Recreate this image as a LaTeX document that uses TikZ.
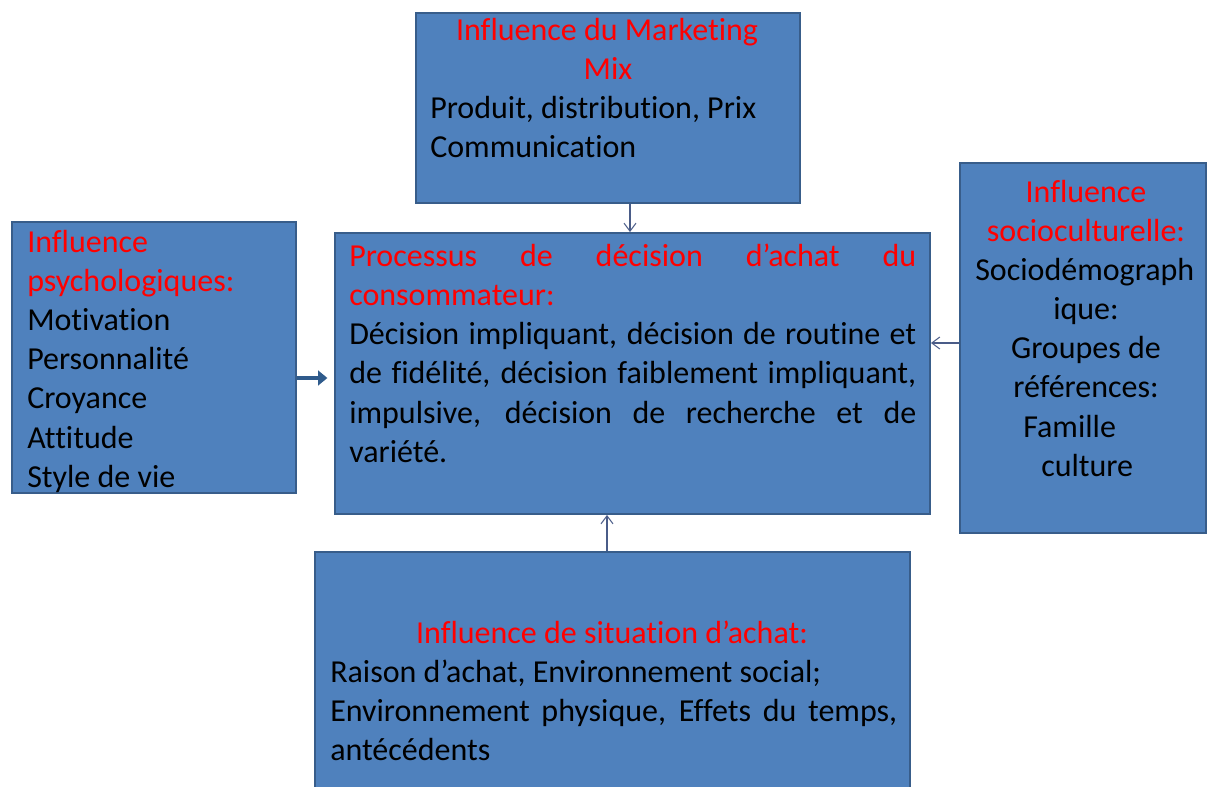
\documentclass[tikz,border=0pt]{standalone}
\usepackage{fontspec}
\setmainfont{Carlito}[Ligatures=CommonOff]
\usetikzlibrary{fit,arrows.meta}
\definecolor{boxfill}{HTML}{4F81BD}
\definecolor{boxline}{HTML}{385D8A}
\definecolor{arrowblue}{HTML}{2F5B8C}
\definecolor{thinarrow}{HTML}{4A5C88}
\definecolor{titlered}{HTML}{FF0000}
\tikzset{
  box/.style={draw=boxline, line width=1.4pt, fill=boxfill, inner sep=0pt},
  txt/.style={anchor=base west, inner sep=0pt, font=\fontsize{24}{29}\selectfont, text=black},
  ctxt/.style={txt, anchor=base},
  red/.style={text=titlered},
  thinarr/.style={draw=thinarrow, line width=0.8pt, -{Straight Barb[length=6pt,width=9pt]}},
  thickarr/.style={draw=arrowblue, line width=3.2pt, -{Triangle[length=7pt,width=11pt]}}
}
\begin{document}
\begin{tikzpicture}[x=0.75pt,y=-0.75pt]
\useasboundingbox (0,0) rectangle (1209,787);
% boxes
\node[box, fit={(416,13)(800,203)}] (mkt) {};
\node[box, fit={(12,222)(296,493)}] (psy) {};
\node[box, fit={(335,233)(930,514)}] (proc) {};
\node[box, fit={(960,163)(1206,533)}] (soc) {};
\node[box, fit={(315,552)(910,795)}] (sit) {};

% marketing mix
\node[ctxt, red] (m1) at (607,41) {Influence du Marketing};
\node[ctxt, red] (m2) at (608,80) {Mix};
\node[txt] (m3) at (430,119) {Produit, distribution, Prix};
\node[txt] (m4) at (430,158) {Communication};

% psychologiques
\node[txt, red] (p1) at (27,253) {Influence};
\node[txt, red] (p2) at (27,292) {psychologiques:};
\node[txt] (p3) at (27,331) {Motivation};
\node[txt] (p4) at (27,370) {Personnalité};
\node[txt] (p5) at (27,409) {Croyance};
\node[txt] (p6) at (27,448) {Attitude};
\node[txt] (p7) at (27,487) {Style de vie};

% processus
\node[txt, red] (c1) at (349,267) {\makebox[425.25pt][s]{Processus de décision d’achat du}};
\node[txt, red] (c2) at (349,306) {consommateur:};
\node[txt] (c3) at (349,345) {\makebox[425.25pt][s]{Décision impliquant, décision de routine et}};
\node[txt] (c4) at (349,384) {\makebox[425.25pt][s]{de fidélité, décision faiblement impliquant,}};
\node[txt] (c5) at (349,423) {\makebox[425.25pt][s]{impulsive, décision de recherche et de}};
\node[txt] (c6) at (349,462) {variété.};

% socioculturelle
\node[ctxt, red] (s1) at (1086,203) {Influence};
\node[ctxt, red] (s2) at (1086,242) {socioculturelle:};
\node[txt] (s3) at (975,281) {Sociodémograph};
\node[ctxt] (s4) at (1086,320) {ique:};
\node[ctxt] (s5) at (1086,359) {Groupes de};
\node[ctxt] (s6) at (1086,398) {références:};
\node[txt] (s7) at (1023,437) {Famille};
\node[txt] (s8) at (1041,476) {culture};

% situation d'achat
\node[ctxt, red] (b1) at (612,643) {Influence de situation d’achat:};
\node[txt] (b2) at (330,682) {Raison d’achat, Environnement social;};
\node[txt] (b3) at (330,721) {\makebox[425.25pt][s]{Environnement physique, Effets du temps,}};
\node[txt] (b4) at (330,760) {antécédents};

% connectors
\coordinate (xa) at (630,0);
\coordinate (xb) at (607,0);
\coordinate (yl) at (0,378);
\coordinate (yr) at (0,343);
\draw[thinarr] (xa |- mkt.south) -- (xa |- proc.north);
\draw[thinarr] (xb |- sit.north) -- (xb |- proc.south);
\draw[thinarr] (soc.west |- yr) -- (proc.east |- yr);
\draw[thickarr, shorten >=5pt] (psy.east |- yl) -- (proc.west |- yl);
\end{tikzpicture}
\end{document}
